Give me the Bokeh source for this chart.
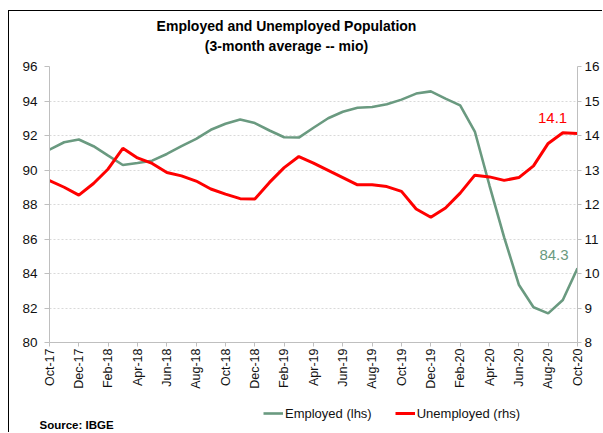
import math
from bokeh.plotting import figure
from bokeh.layouts import column
from bokeh.models import (Range1d, LinearAxis, FixedTicker, Legend, LegendItem,
                          Label)
from bokeh.embed import file_html
from bokeh.resources import INLINE

# ---- data -------------------------------------------------------------
months = ["Oct-17", "Nov-17", "Dec-17", "Jan-18", "Feb-18", "Mar-18", "Apr-18",
          "May-18", "Jun-18", "Jul-18", "Aug-18", "Sep-18", "Oct-18", "Nov-18",
          "Dec-18", "Jan-19", "Feb-19", "Mar-19", "Apr-19", "May-19", "Jun-19",
          "Jul-19", "Aug-19", "Sep-19", "Oct-19", "Nov-19", "Dec-19", "Jan-20",
          "Feb-20", "Mar-20", "Apr-20", "May-20", "Jun-20", "Jul-20", "Aug-20",
          "Sep-20", "Oct-20"]

employed = [91.18, 91.61, 91.77, 91.38, 90.83, 90.29, 90.41, 90.54, 90.93, 91.38,
            91.80, 92.33, 92.68, 92.93, 92.72, 92.29, 91.90, 91.88, 92.45, 93.00,
            93.38, 93.61, 93.65, 93.81, 94.08, 94.43, 94.56, 94.14, 93.75, 92.23,
            89.10, 86.10, 83.35, 82.04, 81.69, 82.46, 84.30]

unemployed = [12.69, 12.50, 12.27, 12.61, 13.03, 13.63, 13.35, 13.19, 12.93, 12.83,
              12.68, 12.45, 12.30, 12.17, 12.16, 12.64, 13.07, 13.39, 13.20, 12.99,
              12.78, 12.57, 12.57, 12.52, 12.38, 11.87, 11.63, 11.90, 12.33, 12.85,
              12.80, 12.70, 12.78, 13.12, 13.77, 14.08, 14.06]

left_ticks = [80, 82, 84, 86, 88, 90, 92, 94, 96]
right_ticks = [8, 9, 10, 11, 12, 13, 14, 15, 16]

title_line1 = "Employed and Unemployed Population"
title_line2 = "(3-month average -- mio)"
source_text = "Source: IBGE"
employed_name = "Employed (lhs)"
unemployed_name = "Unemployed (rhs)"
last_emp_label = "84.3"
last_unemp_label = "14.1"

GREEN = "#6A9A80"
RED = "#FF0000"
FONT = "Liberation Sans"

x = list(range(len(months)))
x_tick_pos = x[::2]


def strip(height):
    s = figure(width=593, height=height, output_backend="svg",
               toolbar_location=None, x_range=Range1d(0, 1),
               y_range=Range1d(0, 1), x_axis_location=None,
               y_axis_location=None, min_border_left=29, min_border_right=25,
               min_border_top=0, min_border_bottom=0)
    s.outline_line_color = None
    s.grid.visible = False
    s.background_fill_color = "white"
    s.border_fill_color = "white"
    return s


# ---- header strip (title) -----------------------------------------------
h = strip(46)
h.add_layout(Label(x=247, y=32, x_units="screen", y_units="screen",
                   text=title_line1, text_font=FONT, text_font_style="bold",
                   text_font_size="14px", text_align="center",
                   text_baseline="middle", text_color="#000000"))
h.add_layout(Label(x=247, y=12, x_units="screen", y_units="screen",
                   text=title_line2, text_font=FONT, text_font_style="bold",
                   text_font_size="14px", text_align="center",
                   text_baseline="middle", text_color="#000000"))

# ---- main figure --------------------------------------------------------
p = figure(width=583, height=337, output_backend="svg", toolbar_location=None,
           x_range=Range1d(0, len(months) - 1),
           y_range=Range1d(left_ticks[0], left_ticks[-1]),
           min_border_left=29, min_border_right=25, min_border_top=9,
           min_border_bottom=52,
           styles={"margin-left": "10px"})
p.extra_y_ranges = {"right": Range1d(right_ticks[0], right_ticks[-1])}
p.outline_line_color = None
p.background_fill_color = "white"
p.border_fill_color = "white"

xa = p.xaxis[0]
xa.ticker = FixedTicker(ticks=x_tick_pos)
xa.major_label_overrides = {i: months[i] for i in x_tick_pos}
xa.major_label_orientation = math.pi / 2
xa.minor_tick_line_color = None
xa.axis_line_color = "#BFBFBF"
xa.major_tick_line_color = "#BFBFBF"
xa.major_tick_out = 4
xa.major_tick_in = 0
xa.major_label_text_font = FONT
xa.major_label_text_font_size = "12.5px"
xa.major_label_text_color = "#111111"
xa.major_label_standoff = 2

ya = p.yaxis[0]
ya.ticker = FixedTicker(ticks=left_ticks)
ya.minor_tick_line_color = None
ya.axis_line_color = "#BFBFBF"
ya.major_tick_line_color = "#BFBFBF"
ya.major_tick_out = 5
ya.major_tick_in = 0
ya.major_label_text_font = FONT
ya.major_label_text_font_size = "13.5px"
ya.major_label_text_color = "#111111"
ya.major_label_standoff = 7

ra = LinearAxis(y_range_name="right", ticker=FixedTicker(ticks=right_ticks))
ra.minor_tick_line_color = None
ra.axis_line_color = "#BFBFBF"
ra.major_tick_line_color = "#BFBFBF"
ra.major_tick_out = 4
ra.major_tick_in = 0
ra.major_label_text_font = FONT
ra.major_label_text_font_size = "13.5px"
ra.major_label_text_color = "#111111"
ra.major_label_standoff = 3
p.add_layout(ra, "right")

p.xgrid.grid_line_color = None
p.ygrid.ticker = FixedTicker(ticks=left_ticks)
p.ygrid.grid_line_color = "#D9D9D9"
p.ygrid.grid_line_dash = "2 2"

p.line(x, employed, line_color=GREEN, line_width=2.6)
p.line(x, unemployed, line_color=RED, line_width=3, y_range_name="right")

p.add_layout(Label(x=x[-1] - 1.6, y=employed[-1] + 0.8, text=last_emp_label,
                   text_color=GREEN, text_font=FONT, text_font_size="15px",
                   text_align="center", text_baseline="middle"))
p.add_layout(Label(x=x[-1] - 1.7, y=unemployed[-1] + 0.45, y_range_name="right",
                   text=last_unemp_label, text_color=RED, text_font=FONT,
                   text_font_size="15px", text_align="center",
                   text_baseline="middle"))

# ---- footer strip (legend + source) ------------------------------------
f = strip(38)
# legend proxies: same series, but outside this strip's (0..1) view
g_emp = f.line(x, employed, line_color=GREEN, line_width=2.6)
g_unemp = f.line(x, unemployed, line_color=RED, line_width=3)

legend = Legend(items=[LegendItem(label=employed_name, renderers=[g_emp]),
                       LegendItem(label=unemployed_name, renderers=[g_unemp])],
                orientation="horizontal", location=(224, 11),
                padding=0, margin=0, spacing=23, label_standoff=2,
                glyph_width=20, glyph_height=16,
                label_text_font=FONT, label_text_font_size="13px",
                label_text_color="#111111",
                background_fill_alpha=0, border_line_color=None)
f.add_layout(legend, "center")
f.add_layout(Label(x=0, y=8, x_units="screen", y_units="screen",
                   text=source_text, text_font=FONT, text_font_style="bold",
                   text_font_size="11.5px", text_align="left",
                   text_baseline="middle", text_color="#000000"))

layout = column(h, p, f, spacing=0,
                styles={"margin-left": "8px", "margin-top": "10px",
                        "border-left": "1px solid black",
                        "border-top": "1px solid black"})

open("out.html", "w").write(file_html(layout, INLINE))
